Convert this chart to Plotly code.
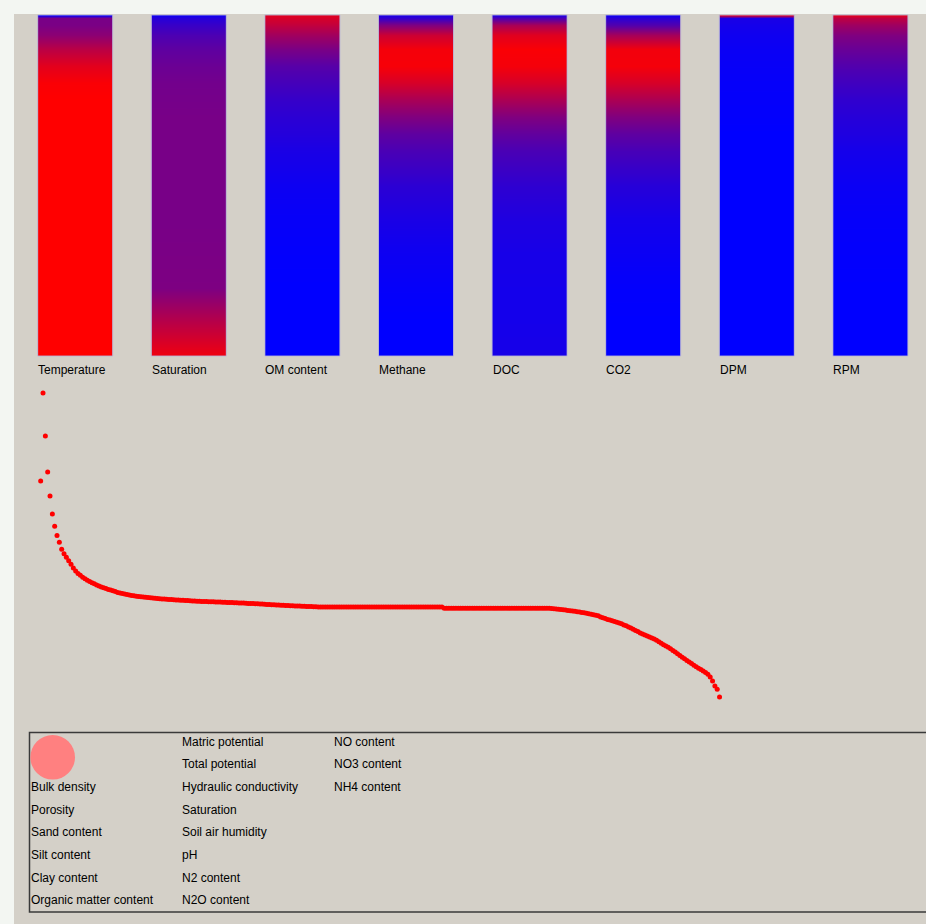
import plotly.graph_objects as go

# ---------------- data ----------------
bar_labels = ["Temperature", "Saturation", "OM content", "Methane",
              "DOC", "CO2", "DPM", "RPM"]

# relative depth (0 = top of column, 1 = bottom)
depth_levels = [0, 0.01, 0.03, 0.06, 0.1, 0.15, 0.2, 0.25, 0.3, 0.35,
                0.4, 0.5, 0.6, 0.7, 0.8, 0.9, 1.0]

# scaled value (0 = low -> blue, 1 = high -> red) at each depth level
temperature = [0.0, 0.47, 0.48, 0.55, 0.73, 0.89, 0.98, 1, 1, 1, 1, 1, 1, 1, 1, 1, 1]
saturation = [0.05, 0.15, 0.22, 0.3, 0.37, 0.42, 0.45, 0.46, 0.47, 0.47, 0.47, 0.47, 0.47, 0.48, 0.49, 0.72, 0.94]
om_content = [0.88, 0.84, 0.76, 0.63, 0.48, 0.34, 0.27, 0.21, 0.17, 0.14, 0.1, 0.05, 0.025, 0.01, 0, 0, 0]
methane = [0.1, 0.2, 0.5, 0.8, 0.96, 0.97, 0.84, 0.66, 0.5, 0.37, 0.29, 0.17, 0.1, 0.05, 0.02, 0, 0]
doc = [0.1, 0.3, 0.66, 0.88, 0.98, 0.96, 0.84, 0.67, 0.5, 0.38, 0.29, 0.18, 0.12, 0.09, 0.08, 0.08, 0.09]
co2 = [0.05, 0.17, 0.32, 0.65, 0.95, 0.96, 0.84, 0.67, 0.5, 0.37, 0.28, 0.15, 0.08, 0.04, 0.01, 0, 0]
dpm = [0.9, 0.1, 0.08, 0.06, 0.04, 0.03, 0.02, 0.015, 0.01, 0, 0, 0, 0, 0, 0, 0, 0]
rpm = [0.9, 0.74, 0.62, 0.5, 0.41, 0.32, 0.25, 0.19, 0.15, 0.12, 0.08, 0.04, 0.02, 0.01, 0, 0, 0]
profiles = [temperature, saturation, om_content, methane, doc, co2, dpm, rpm]

# curve values (one per index)
curve_values = [
    219, 307, 264, 228, 204, 186, 173.7, 164.5, 157.7, 150.7, 146.3, 142.8, 139.3, 135.7,
    132, 129, 126.5, 124.7, 122.8, 121.2, 119.7, 118.5, 117.3, 116.2, 115.1, 114, 113,
    112.2, 111.4, 110.6, 109.9, 109.2, 108.4, 107.6, 107, 106.4, 105.9, 105.4, 104.9,
    104.5, 104.2, 103.8, 103.5, 103.2, 103, 102.7, 102.5,
    102.3, 102.1, 101.8, 101.5, 101.3, 101.1, 100.9, 100.8, 100.6, 100.5, 100.3, 100,
    99.9, 99.8, 99.7, 99.5, 99.4, 99.3, 99.1, 99, 98.8, 98.7, 98.6, 98.5, 98.4, 98.3,
    98.3, 98.2, 98.1, 98, 97.9, 97.8, 97.7, 97.6, 97.5, 97.4, 97.3, 97.2, 97.1, 97,
    96.9, 96.8, 96.6, 96.5, 96.4, 96.3, 96.2, 96, 95.9, 95.7, 95.6, 95.4, 95.3, 95.2,
    95.1, 95, 94.8, 94.7, 94.6, 94.4, 94.3, 94.2, 94.1, 94, 93.9, 93.8, 93.7, 93.6,
    93.5, 93.4, 93.3, 93.2, 93.1,
    93, 93, 93, 93, 93, 93, 93, 93, 93, 93, 93, 93, 93, 93, 93, 93, 93, 93,
    93, 93, 93, 93, 93, 93, 93, 93, 93, 93, 93, 93, 93, 93, 93, 93, 93, 93,
    93, 93, 93, 93, 93, 93, 93, 93, 93, 93, 93, 93, 93, 93, 93, 93, 93,
    91.7, 91.7, 91.7, 91.7, 91.7, 91.7, 91.7, 91.7, 91.7, 91.7, 91.7, 91.7,
    91.7, 91.7, 91.7, 91.7, 91.7, 91.7, 91.7, 91.7, 91.7, 91.7, 91.7, 91.7,
    91.7, 91.7, 91.7, 91.7, 91.7, 91.7, 91.7, 91.7, 91.7, 91.7, 91.7, 91.7,
    91.7, 91.7, 91.7, 91.7, 91.7, 91.7, 91.7, 91.7, 91.7, 91.7,
    91.5, 91.3, 91.1, 90.8, 90.5, 90.2, 89.9, 89.6, 89.3, 89, 88.7, 88.3, 88, 87.6,
    87.2, 86.8, 86.3, 85.8, 85.3, 84.8, 84.2,
    83.0, 82.2, 81.4, 80.6, 79.9, 79.2, 78.5, 77.8, 77.1, 76.3, 75.1, 74.2, 73.1, 72.0,
    70.8, 69.6, 68.4, 67.1, 66.0, 65.0, 64.1, 63.1, 62.1, 61.0, 59.7, 58.2, 56.7, 55.3,
    54.0, 52.7, 51.2, 49.6, 48.0, 46.3, 44.6, 42.8, 41.2, 39.6, 38.0, 36.4, 34.8, 33.2,
    31.8, 30.4, 29.0, 27.4, 25.7, 23.0, 19.0, 14.0, 10.7, 3.0,
]
curve_index = list(range(len(curve_values)))

legend_col1 = ["", "", "Bulk density", "Porosity", "Sand content", "Silt content",
               "Clay content", "Organic matter content"]
legend_col2 = ["Matric potential", "Total potential", "Hydraulic conductivity",
               "Saturation", "Soil air humidity", "pH", "N2 content", "N2O content"]
legend_col3 = ["NO content", "NO3 content", "NH4 content"]

# ---------------- layout helpers ----------------
W, H = 926, 924


def px(x):
    return x / W


def py(y):
    return 1 - y / H


FONT = "Liberation Sans, Arial, sans-serif"
colorscale = [[0, "rgb(0,0,255)"], [1, "rgb(255,0,0)"]]

fig = go.Figure()
layout = dict(
    width=W, height=H, margin=dict(l=0, r=0, t=0, b=0),
    paper_bgcolor="#f3f6f2", plot_bgcolor="rgba(0,0,0,0)",
    showlegend=False, font=dict(family=FONT, size=12, color="#000000"),
)
shapes = [dict(type="rect", xref="paper", yref="paper", x0=px(14), x1=1, y0=0, y1=py(14),
               fillcolor="#d4d0c8", line=dict(width=0), layer="below")]
annotations = []

bar_left0, bar_step, bar_w = 37.7, 113.6, 75
bar_top, bar_bot = 15, 356
layout["yaxis"] = dict(domain=[py(bar_bot), py(bar_top)], range=[1, 0], visible=False,
                       fixedrange=True)
for k, (name, prof) in enumerate(zip(bar_labels, profiles)):
    ax = "x" if k == 0 else f"x{k + 1}"
    axkey = "xaxis" if k == 0 else f"xaxis{k + 1}"
    left = bar_left0 + k * bar_step
    layout[axkey] = dict(domain=[px(left), px(left + bar_w)], range=[0, 1], visible=False,
                         anchor="y", fixedrange=True)
    fig.add_trace(go.Heatmap(
        z=[[v, v] for v in prof], x=[0.25, 0.75], y=depth_levels,
        colorscale=colorscale, zmin=0, zmax=1, zsmooth="best", showscale=False,
        xaxis=ax, yaxis="y", hoverinfo="skip"))
    shapes.append(dict(type="rect", xref="paper", yref="paper",
                       x0=px(left), x1=px(left + bar_w), y0=py(bar_bot), y1=py(bar_top),
                       line=dict(color="rgba(185,180,215,0.85)", width=1)))
    annotations.append(dict(text=name, xref="paper", yref="paper", x=px(left - 1.5), y=py(369.5),
                            xanchor="left", yanchor="middle", showarrow=False,
                            font=dict(size=12, family=FONT, color="#000")))

# curve subplot
layout["xaxis9"] = dict(domain=[0, 1], range=[-17.44, 379.5], visible=False, anchor="y2",
                        fixedrange=True)
layout["yaxis2"] = dict(domain=[0, 1], range=[-224, 700], visible=False, anchor="x9",
                        fixedrange=True)
fig.add_trace(go.Scatter(x=curve_index, y=curve_values, mode="markers",
                         marker=dict(color="#ff0000", size=5, line=dict(width=0)),
                         xaxis="x9", yaxis="y2", hoverinfo="skip"))

# info panel
shapes.append(dict(type="rect", xref="paper", yref="paper", x0=px(29.5), x1=px(940),
                   y0=py(912), y1=py(732.5), line=dict(color="#3a3a3a", width=1.5)))
shapes.append(dict(type="circle", xref="paper", yref="paper",
                   x0=px(52.7 - 22.3), x1=px(52.7 + 22.3), y0=py(757.3 + 22.3), y1=py(757.3 - 22.3),
                   fillcolor="#ff8080", line=dict(width=0)))
row_y0, row_dy = 741.7, 22.66
for col_x, items in [(30, legend_col1), (181, legend_col2), (333, legend_col3)]:
    for r, t in enumerate(items):
        if not t:
            continue
        annotations.append(dict(text=t, xref="paper", yref="paper", x=px(col_x - 1.5),
                                y=py(row_y0 + r * row_dy), xanchor="left", yanchor="middle",
                                showarrow=False, font=dict(size=12, family=FONT, color="#000")))

layout["shapes"] = shapes
layout["annotations"] = annotations
fig.update_layout(**layout)
fig.write_html("out.html", config={"displayModeBar": False},
               post_script="document.body.style.margin='0';document.body.style.overflow='hidden';")
